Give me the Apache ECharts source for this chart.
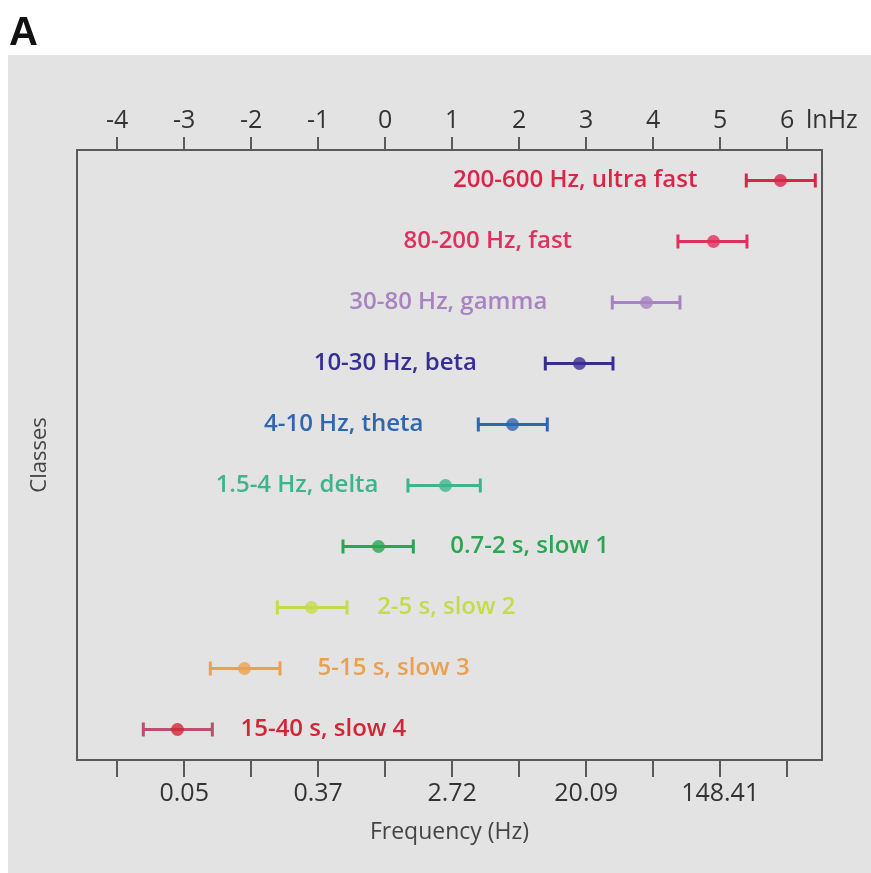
<!DOCTYPE html>
<html>
<head>
    <meta charset="UTF-8">
    <title>Frequency classes</title>
    <script src="https://cdn.jsdelivr.net/npm/echarts@6/dist/echarts.min.js"></script>
</head>
<style type="text/css">
    body { margin: 0; background: #fff; }
    #main { width: 871px; height: 873px; }
</style>
<body>
<div id="main"></div>
<script type="text/javascript">
    // classes, from top to bottom
    var classes = ['200-600 Hz, ultra fast', '80-200 Hz, fast', '30-80 Hz, gamma', '10-30 Hz, beta',
        '4-10 Hz, theta', '1.5-4 Hz, delta', '0.7-2 s, slow 1', '2-5 s, slow 2', '5-15 s, slow 3', '15-40 s, slow 4'];
    // ln(Hz) of centre and of the ends of each bar
    var centre = [5.9, 4.9, 3.9, 2.9, 1.9, 0.9, -0.1, -1.1, -2.1, -3.1];
    var low = [5.39, 4.37, 3.39, 2.39, 1.39, 0.34, -0.63, -1.61, -2.61, -3.61];
    var high = [6.42, 5.40, 4.40, 3.40, 2.42, 1.42, 0.42, -0.57, -1.57, -2.58];
    // where the class text ends (left side) or starts (right side), ln(Hz)
    var labelAt = [4.66, 2.79, 2.42, 1.37, 0.57, -0.10, 0.97, -0.12, -1.01, -2.16];
    var labelSide = ['left', 'left', 'left', 'left', 'left', 'left', 'right', 'right', 'right', 'right'];
    var colors = ['#dc2448', '#e0305c', '#a783c2', '#372e94', '#2e66b0', '#3db58c', '#2aa552', '#c5db4a', '#eba050', '#d42436'];
    var barColors = ['#dc2448', '#e0305c', '#a783c2', '#372e94', '#2e66b0', '#3db58c', '#2aa552', '#c5db4a', '#eba050', '#b9506e'];

    // axis ticks
    var topTicks = [-4, -3, -2, -1, 0, 1, 2, 3, 4, 5, 6];
    var bottomLabelAt = [-3, -1, 1, 3, 5];
    var bottomLabels = ['0.05', '0.37', '2.72', '20.09', '148.41'];

    var tickFont = "'Open Sans', sans-serif";
    var textFont = "'Open Sans', sans-serif";

    var rows = classes.map(function (c, i) {
        return [low[i], high[i], i, labelAt[i]];
    });

    var myChart = echarts.init(document.getElementById('main'));
    var option = {
        backgroundColor: '#ffffff',
        animation: false,
        graphic: [
            {type: 'rect', shape: {x: 8, y: 55, width: 863, height: 818}, style: {fill: '#e3e3e3'}, z: -10},
            {type: 'text', left: 9, top: 14, style: {text: 'A', fill: '#111', font: "bold 40px 'Liberation Sans', sans-serif"}}
        ],
        grid: {
            left: 77, right: 49, top: 150, bottom: 113,
            show: true, borderColor: '#5a5a5a', borderWidth: 2, backgroundColor: '#e3e3e3'
        },
        xAxis: [
            {
                type: 'value', position: 'top', min: -4.6, max: 6.52,
                name: 'lnHz', nameLocation: 'end', nameGap: -16,
                nameTextStyle: {color: '#333', fontFamily: tickFont, fontSize: 25, verticalAlign: 'bottom', padding: [0, 0, 17, 0]},
                axisLine: {show: true, onZero: false, lineStyle: {color: '#5a5a5a', width: 2}},
                axisTick: {show: true, customValues: topTicks, length: 13, lineStyle: {color: '#5a5a5a', width: 2}},
                axisLabel: {customValues: topTicks, margin: 17, color: '#333', fontFamily: tickFont, fontSize: 25},
                splitLine: {show: false}
            },
            {
                type: 'value', position: 'bottom', min: -4.6, max: 6.52,
                name: 'Frequency (Hz)', nameLocation: 'middle', nameGap: 61,
                nameTextStyle: {color: '#444', fontFamily: tickFont, fontSize: 23},
                axisLine: {show: true, onZero: false, lineStyle: {color: '#5a5a5a', width: 2}},
                axisTick: {show: true, customValues: topTicks, length: 17, lineStyle: {color: '#5a5a5a', width: 2}},
                axisLabel: {
                    customValues: bottomLabelAt, margin: 21, color: '#333', fontFamily: tickFont, fontSize: 25,
                    formatter: function (v) { return bottomLabels[bottomLabelAt.indexOf(v)]; }
                },
                splitLine: {show: false}
            }
        ],
        yAxis: {
            type: 'category', data: classes, inverse: true,
            name: 'Classes', nameLocation: 'middle', nameGap: 26, nameRotate: 90,
            nameTextStyle: {color: '#444', fontFamily: tickFont, fontSize: 22},
            axisLine: {show: true, onZero: false, lineStyle: {color: '#5a5a5a', width: 2}},
            axisTick: {show: false},
            axisLabel: {show: false},
            splitLine: {show: false}
        },
        series: [
            {
                // error bars with caps, and the class name
                type: 'custom',
                xAxisIndex: 0,
                data: rows,
                renderItem: function (params, api) {
                    var i = api.value(2);
                    var a = api.coord([api.value(0), i]);
                    var b = api.coord([api.value(1), i]);
                    var t = api.coord([api.value(3), i]);
                    var cap = 7;
                    var ls = {stroke: barColors[i], lineWidth: 3};
                    return {
                        type: 'group',
                        children: [
                            {type: 'line', shape: {x1: a[0], y1: a[1], x2: b[0], y2: b[1]}, style: ls},
                            {type: 'line', shape: {x1: a[0], y1: a[1] - cap, x2: a[0], y2: a[1] + cap}, style: ls},
                            {type: 'line', shape: {x1: b[0], y1: b[1] - cap, x2: b[0], y2: b[1] + cap}, style: ls},
                            {
                                type: 'text', x: t[0], y: t[1],
                                style: {
                                    text: classes[i], fill: colors[i], font: '600 24px ' + textFont,
                                    textAlign: labelSide[i] === 'left' ? 'right' : 'left', textVerticalAlign: 'middle'
                                }
                            }
                        ]
                    };
                }
            },
            {
                type: 'scatter',
                xAxisIndex: 0,
                symbolSize: 13,
                data: centre.map(function (v, i) {
                    return {value: [v, i], itemStyle: {color: colors[i]}};
                })
            }
        ]
    };
    myChart.setOption(option);
</script>
</body>
</html>
